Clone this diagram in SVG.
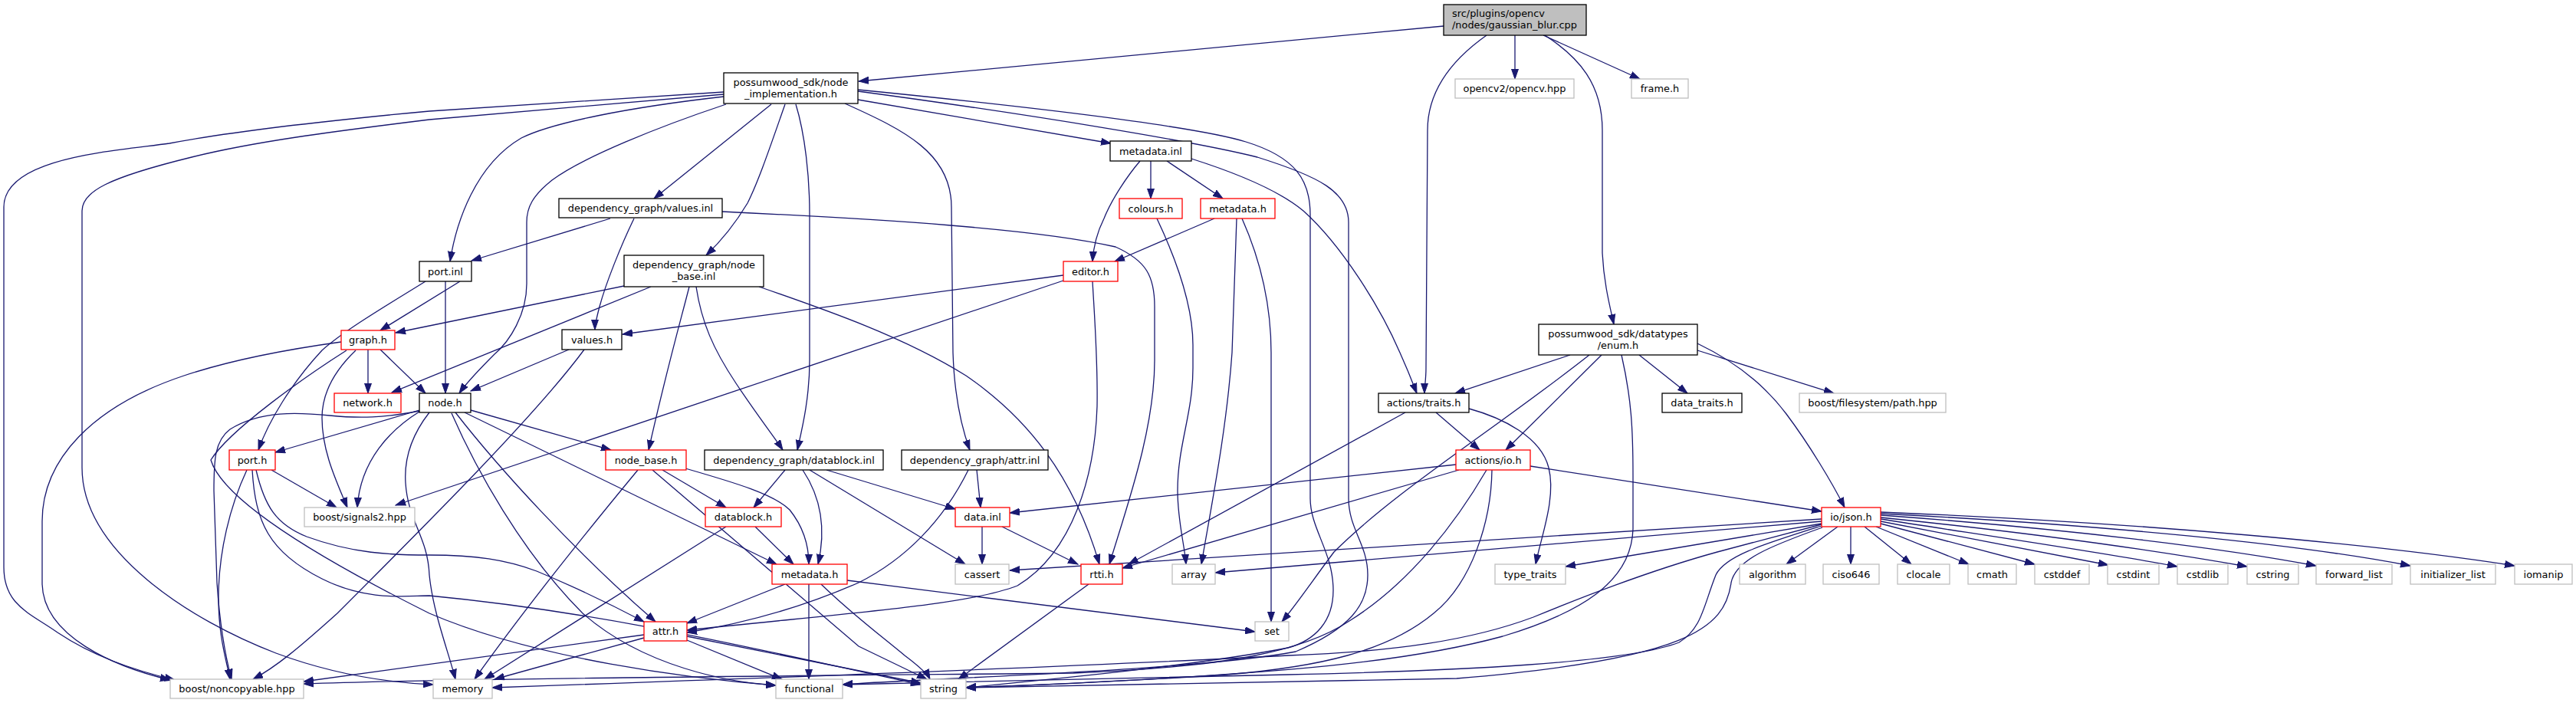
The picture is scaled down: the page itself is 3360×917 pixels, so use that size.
<svg xmlns="http://www.w3.org/2000/svg" width="3360" height="917" viewBox="0 0 3360 917">
<style>
rect{fill:#fff;stroke-width:1.3}
.n rect{stroke:#000}
.r rect{stroke:#ff0000}
.g rect{stroke:#bfbfbf}
.root rect{fill:#bfbfbf;stroke:#000}
text{font-family:"DejaVu Sans","Liberation Sans",sans-serif;font-size:12.9px;fill:#000;text-anchor:middle}
.lt{text-anchor:start}
#edges path{fill:none;stroke:#191970;stroke-width:1.3;marker-end:url(#a)}
</style>
<defs>
<marker id="a" markerWidth="14" markerHeight="10" refX="13" refY="5" orient="auto" markerUnits="userSpaceOnUse"><path d="M0,0.5 L13,5 L0,9.5 Z" fill="#191970" stroke="#191970" stroke-width="1"/></marker>
</defs>
<rect x="0" y="0" width="3360" height="917" style="fill:#fff;stroke:none"/>
<g id="edges">
<path d="M1883,34 L1120,106"/>
<path d="M1976,46 L1976,103"/>
<path d="M2013,46 L2139,103"/>
<path d="M2015,46 C2060,75 2090,110 2090,170 L2090,330 C2092,370 2100,400 2105,423"/>
<path d="M1939,46 C1905,70 1862,110 1862,170 L1860,480 C1860,495 1858,505 1858,513"/>
<path d="M944,120 L560,145 C420,158 300,172 221,187 C150,197 5,205 5,270 L5,740 C5,790 40,800 75,825 C120,855 170,873 228,887"/>
<path d="M944,123 L560,156 C430,172 330,185 250,205 C140,232 107,250 107,275 L107,610 C107,720 250,810 360,852 C430,878 500,890 565,893"/>
<path d="M944,126 C820,140 720,160 680,180 C620,215 595,290 587,341"/>
<path d="M947,136 C860,165 760,205 720,235 C695,255 687,270 687,290 L687,370 C687,410 665,445 645,462 C625,482 608,500 599,513"/>
<path d="M1006,136 L853,259"/>
<path d="M1024,136 C1005,190 990,235 975,265 C960,290 940,315 921,333"/>
<path d="M1038,136 C1050,175 1056,230 1056,280 L1056,470 C1056,520 1046,560 1040,587"/>
<path d="M1102,135 C1180,170 1241,200 1241,270 L1243,460 C1245,520 1255,560 1265,587"/>
<path d="M1119,130 L1449,187"/>
<path d="M1119,117 C1350,140 1560,165 1625,185 C1690,205 1709,235 1709,280 L1709,650 C1709,690 1739,720 1739,770 C1739,810 1716,835 1680,845 C1550,870 1350,888 1260,897"/>
<path d="M1119,119 C1350,150 1560,185 1640,205 C1720,230 1759,250 1759,290 L1759,650 C1759,690 1784,710 1784,750 C1784,790 1760,820 1690,850 C1560,875 1200,885 1099,893"/>
<path d="M1501,210 L1501,259"/>
<path d="M1522,210 L1595,259"/>
<path d="M1487,210 C1470,230 1450,260 1440,285 C1430,305 1426,325 1425,341"/>
<path d="M1554,207 C1620,228 1670,250 1700,275 C1750,320 1800,400 1826,460 C1835,480 1843,500 1848,513"/>
<path d="M796,285 L615,340"/>
<path d="M827,285 C810,320 790,370 782,400 C778,415 776,425 776,430"/>
<path d="M942,276 C1150,286 1350,298 1455,322 C1495,340 1506,360 1506,400 L1506,470 C1506,560 1470,660 1447,736"/>
<path d="M1509,285 C1535,340 1556,400 1556,450 L1556,480 C1556,540 1536,580 1536,640 C1536,680 1545,710 1547,736"/>
<path d="M1584,285 L1454,341"/>
<path d="M1613,285 L1607,460 C1600,560 1580,660 1567,736"/>
<path d="M1620,285 C1640,330 1658,390 1658,460 L1658,811"/>
<path d="M600,367 L496,431"/>
<path d="M555,367 C510,395 450,430 420,457 C380,500 350,550 337,587"/>
<path d="M581,367 L581,513"/>
<path d="M814,373 L516,434"/>
<path d="M849,374 L511,512"/>
<path d="M899,374 C890,410 870,480 846,587"/>
<path d="M908,374 C915,420 930,455 960,500 C990,545 1010,570 1021,587"/>
<path d="M990,374 C1080,405 1180,440 1260,490 C1340,545 1400,620 1434,736"/>
<path d="M1387,359 L812,436"/>
<path d="M1387,366 L516,659"/>
<path d="M1425,367 C1428,420 1432,470 1431,530 C1428,620 1400,720 1327,764 C1260,790 1100,800 896,822"/>
<path d="M480,456 L480,513"/>
<path d="M496,456 L555,513"/>
<path d="M445,446 C380,455 300,470 240,490 C120,530 55,600 55,680 L55,760 C55,830 150,870 222,887"/>
<path d="M464,457 C440,480 420,510 420,545 C420,590 440,630 453,662"/>
<path d="M452,457 C400,490 300,560 275,600 C290,650 400,720 560,800 C700,860 900,885 1012,894"/>
<path d="M547,535 L359,590"/>
<path d="M547,537 C510,560 470,600 466,662"/>
<path d="M547,536 C500,545 470,546 430,542 C390,538 340,535 300,560 C280,575 279,600 279,640 L283,760 C287,820 295,860 302,886"/>
<path d="M560,538 C535,570 527,600 529,630 C532,680 558,700 560,750 C565,800 585,850 594,886"/>
<path d="M589,539 C620,610 680,720 760,800 C840,870 950,890 1012,894"/>
<path d="M594,538 C650,610 750,720 855,811"/>
<path d="M606,538 L1013,736"/>
<path d="M614,535 L797,587"/>
<path d="M742,456 L614,510"/>
<path d="M762,456 C700,540 560,680 440,800 C390,845 360,870 330,886"/>
<path d="M334,613 C345,660 360,684 400,700 C460,722 510,724 560,724 C620,724 660,730 700,745 C760,770 800,790 840,811"/>
<path d="M329,613 C333,680 350,720 420,755 C480,785 530,777 560,777 C800,800 1000,850 1201,893"/>
<path d="M322,613 C300,660 285,720 285,780 C285,830 295,860 300,886"/>
<path d="M354,613 L439,662"/>
<path d="M1873,538 L1930,587"/>
<path d="M1833,538 L1472,736"/>
<path d="M1916,533 C1960,545 2010,570 2020,610 C2030,650 2010,700 2003,736"/>
<path d="M2048,463 L1898,513"/>
<path d="M2089,463 L1964,587"/>
<path d="M2138,463 L2201,513"/>
<path d="M2214,457 L2392,513"/>
<path d="M2214,448 C2260,470 2300,500 2330,540 C2360,580 2390,630 2406,662"/>
<path d="M2073,463 C1950,560 1820,640 1740,720 C1710,760 1690,790 1672,811"/>
<path d="M2115,463 C2128,520 2130,560 2130,620 L2130,690 C2128,760 2060,800 1960,830 C1850,860 1700,880 1260,897"/>
<path d="M1899,606 L1317,669"/>
<path d="M1903,613 L1464,741"/>
<path d="M1996,608 L2376,667"/>
<path d="M1939,613 C1900,680 1840,760 1760,810 C1700,850 1600,870 1400,878 C1000,882 600,885 396,892"/>
<path d="M1946,613 C1945,680 1920,760 1870,800 C1810,850 1720,870 1600,880 C1450,890 1320,895 1260,897"/>
<path d="M1281,687 L1281,736"/>
<path d="M1307,687 L1406,736"/>
<path d="M1024,613 L983,662"/>
<path d="M1047,613 C1065,640 1080,680 1067,736"/>
<path d="M1078,613 L1246,664"/>
<path d="M1056,613 L1259,736"/>
<path d="M1274,613 L1279,662"/>
<path d="M1263,613 C1230,680 1180,730 1120,760 C1040,795 960,815 896,825"/>
<path d="M864,613 L947,662"/>
<path d="M894,611 C960,630 1010,645 1030,665 C1050,690 1055,715 1055,736"/>
<path d="M832,613 C760,700 680,800 619,886"/>
<path d="M851,613 L1120,843 L1209,886"/>
<path d="M985,687 L1035,736"/>
<path d="M947,687 L632,886"/>
<path d="M1024,762 L896,813"/>
<path d="M1055,762 L1055,886"/>
<path d="M1105,757 L1637,824"/>
<path d="M1071,762 C1110,800 1150,830 1180,855 C1200,870 1210,880 1213,886"/>
<path d="M840,828 L396,889"/>
<path d="M840,832 L645,886"/>
<path d="M896,835 L1020,886"/>
<path d="M896,830 L1201,891"/>
<path d="M1420,762 L1250,886"/>
<path d="M2397,687 L2330,736"/>
<path d="M2414,687 L2414,736"/>
<path d="M2432,687 L2493,736"/>
<path d="M2447,687 L2568,736"/>
<path d="M2453,683 L2654,736"/>
<path d="M2453,680 L2750,737"/>
<path d="M2453,677 C2600,700 2750,722 2840,739"/>
<path d="M2453,675 C2650,695 2800,716 2931,739"/>
<path d="M2453,672 C2700,690 2900,715 3021,738"/>
<path d="M2453,670 C2750,685 3000,710 3144,738"/>
<path d="M2453,668 C2800,682 3100,710 3280,738"/>
<path d="M2376,677 L1317,744"/>
<path d="M2376,680 L1585,747"/>
<path d="M2376,683 L2042,739"/>
<path d="M2376,684 L2240,720 C2160,742 2080,772 2000,805 C1920,835 1820,850 1680,855 C1400,870 900,888 642,897"/>
<path d="M2376,686 C2300,710 2250,725 2238,750 C2222,790 2220,820 2190,838 C2120,865 1900,875 1680,880 C1400,887 1200,890 1099,893"/>
<path d="M2377,688 C2310,712 2264,730 2258,760 C2250,820 2200,860 1900,885 C1600,892 1400,895 1260,897"/>
</g>
<g id="n_root" class="root"><rect x="1883" y="6" width="186" height="40"/><text class="lt" x="1894" y="22.3">src/plugins/opencv</text><text class="lt" x="1894" y="37.3">/nodes/gaussian_blur.cpp</text></g>
<g id="n_node_impl" class="n"><rect x="944" y="95" width="175" height="40"/><text x="1031.5" y="111.7">possumwood_sdk/node</text><text x="1031.5" y="126.7">_implementation.h</text></g>
<g id="n_opencv" class="g"><rect x="1898" y="103" width="155" height="25"/><text x="1975.5" y="120">opencv2/opencv.hpp</text></g>
<g id="n_frame" class="g"><rect x="2128" y="103" width="74" height="25"/><text x="2165" y="120">frame.h</text></g>
<g id="n_metadata_inl" class="n"><rect x="1448" y="184" width="106" height="26"/><text x="1501" y="201.5">metadata.inl</text></g>
<g id="n_values_inl" class="n"><rect x="729" y="259" width="213" height="25"/><text x="835.5" y="276">dependency_graph/values.inl</text></g>
<g id="n_colours" class="r"><rect x="1460" y="259" width="82" height="26"/><text x="1501" y="276.5">colours.h</text></g>
<g id="n_metadata_h1" class="r"><rect x="1566" y="259" width="97" height="26"/><text x="1614.5" y="276.5">metadata.h</text></g>
<g id="n_port_inl" class="n"><rect x="547" y="341" width="68" height="26"/><text x="581" y="358.5">port.inl</text></g>
<g id="n_node_base_inl" class="n"><rect x="814" y="333" width="182" height="41"/><text x="905" y="349.7">dependency_graph/node</text><text x="905" y="364.7">_base.inl</text></g>
<g id="n_editor" class="r"><rect x="1387" y="341" width="71" height="26"/><text x="1422.5" y="358.5">editor.h</text></g>
<g id="n_enum" class="n"><rect x="2007" y="423" width="207" height="40"/><text x="2110.5" y="439.7">possumwood_sdk/datatypes</text><text x="2110.5" y="454.7">/enum.h</text></g>
<g id="n_graph" class="r"><rect x="445" y="431" width="70" height="25"/><text x="480" y="448">graph.h</text></g>
<g id="n_values_h" class="n"><rect x="733" y="430" width="78" height="26"/><text x="772" y="447.5">values.h</text></g>
<g id="n_network" class="r"><rect x="436" y="513" width="87" height="25"/><text x="479.5" y="530">network.h</text></g>
<g id="n_node_h" class="n"><rect x="547" y="513" width="67" height="25"/><text x="580.5" y="530">node.h</text></g>
<g id="n_traits" class="n"><rect x="1798" y="513" width="118" height="25"/><text x="1857" y="530">actions/traits.h</text></g>
<g id="n_data_traits" class="n"><rect x="2168" y="513" width="104" height="25"/><text x="2220" y="530">data_traits.h</text></g>
<g id="n_path" class="g"><rect x="2347" y="513" width="191" height="25"/><text x="2442.5" y="530">boost/filesystem/path.hpp</text></g>
<g id="n_port_h" class="r"><rect x="299" y="587" width="60" height="26"/><text x="329" y="604.5">port.h</text></g>
<g id="n_node_base_h" class="r"><rect x="790" y="587" width="105" height="26"/><text x="842.5" y="604.5">node_base.h</text></g>
<g id="n_datablock_inl" class="n"><rect x="919" y="587" width="233" height="26"/><text x="1035.5" y="604.5">dependency_graph/datablock.inl</text></g>
<g id="n_attr_inl" class="n"><rect x="1176" y="587" width="191" height="26"/><text x="1271.5" y="604.5">dependency_graph/attr.inl</text></g>
<g id="n_io" class="r"><rect x="1899" y="587" width="97" height="26"/><text x="1947.5" y="604.5">actions/io.h</text></g>
<g id="n_signals2" class="g"><rect x="397" y="662" width="144" height="25"/><text x="469" y="679">boost/signals2.hpp</text></g>
<g id="n_datablock_h" class="r"><rect x="920" y="662" width="99" height="25"/><text x="969.5" y="679">datablock.h</text></g>
<g id="n_data_inl" class="r"><rect x="1246" y="662" width="71" height="25"/><text x="1281.5" y="679">data.inl</text></g>
<g id="n_json" class="r"><rect x="2376" y="662" width="77" height="25"/><text x="2414.5" y="679">io/json.h</text></g>
<g id="n_metadata_h2" class="r"><rect x="1007" y="736" width="98" height="26"/><text x="1056" y="753.5">metadata.h</text></g>
<g id="n_cassert" class="g"><rect x="1246" y="736" width="70" height="26"/><text x="1281" y="753.5">cassert</text></g>
<g id="n_rtti" class="r"><rect x="1410" y="736" width="54" height="26"/><text x="1437" y="753.5">rtti.h</text></g>
<g id="n_array" class="g"><rect x="1529" y="736" width="56" height="26"/><text x="1557" y="753.5">array</text></g>
<g id="n_type_traits" class="g"><rect x="1950" y="736" width="92" height="26"/><text x="1996" y="753.5">type_traits</text></g>
<g id="n_algorithm" class="g"><rect x="2269" y="736" width="86" height="26"/><text x="2312" y="753.5">algorithm</text></g>
<g id="n_ciso646" class="g"><rect x="2378" y="736" width="73" height="26"/><text x="2414.5" y="753.5">ciso646</text></g>
<g id="n_clocale" class="g"><rect x="2475" y="736" width="68" height="26"/><text x="2509" y="753.5">clocale</text></g>
<g id="n_cmath" class="g"><rect x="2567" y="736" width="63" height="26"/><text x="2598.5" y="753.5">cmath</text></g>
<g id="n_cstddef" class="g"><rect x="2654" y="736" width="71" height="26"/><text x="2689.5" y="753.5">cstddef</text></g>
<g id="n_cstdint" class="g"><rect x="2749" y="736" width="67" height="26"/><text x="2782.5" y="753.5">cstdint</text></g>
<g id="n_cstdlib" class="g"><rect x="2840" y="736" width="66" height="26"/><text x="2873" y="753.5">cstdlib</text></g>
<g id="n_cstring" class="g"><rect x="2931" y="736" width="67" height="26"/><text x="2964.5" y="753.5">cstring</text></g>
<g id="n_forward_list" class="g"><rect x="3021" y="736" width="99" height="26"/><text x="3070.5" y="753.5">forward_list</text></g>
<g id="n_initializer_list" class="g"><rect x="3144" y="736" width="111" height="26"/><text x="3199.5" y="753.5">initializer_list</text></g>
<g id="n_iomanip" class="g"><rect x="3280" y="736" width="75" height="26"/><text x="3317.5" y="753.5">iomanip</text></g>
<g id="n_attr_h" class="r"><rect x="840" y="811" width="56" height="25"/><text x="868" y="828">attr.h</text></g>
<g id="n_set" class="g"><rect x="1637" y="811" width="44" height="25"/><text x="1659" y="828">set</text></g>
<g id="n_noncopyable" class="g"><rect x="222" y="886" width="174" height="25"/><text x="309" y="903">boost/noncopyable.hpp</text></g>
<g id="n_memory" class="g"><rect x="565" y="886" width="77" height="25"/><text x="603.5" y="903">memory</text></g>
<g id="n_functional" class="g"><rect x="1012" y="886" width="87" height="25"/><text x="1055.5" y="903">functional</text></g>
<g id="n_string" class="g"><rect x="1201" y="886" width="59" height="25"/><text x="1230.5" y="903">string</text></g>
</svg>
